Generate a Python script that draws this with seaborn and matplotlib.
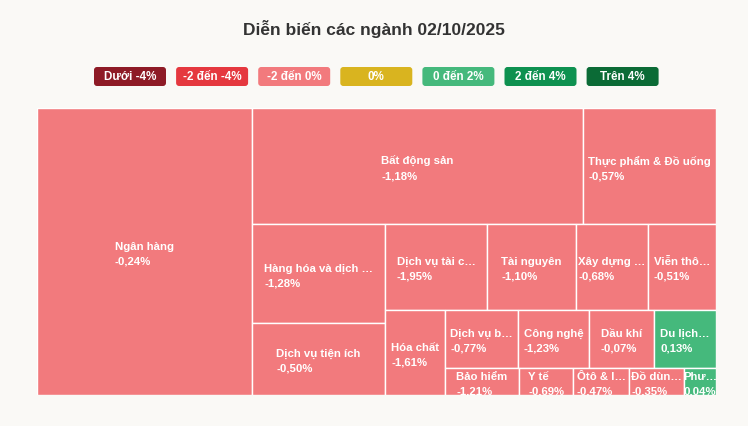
import matplotlib
matplotlib.use("Agg")
import matplotlib.pyplot as plt
from matplotlib.patches import Rectangle, FancyBboxPatch
import seaborn as sns

# ---------------- data ----------------
sectors = ["Ngân hàng", "Bất động sản", "Thực phẩm & Đồ uống", "Hàng hóa và dịch …",
           "Dịch vụ tiện ích", "Dịch vụ tài c…", "Tài nguyên", "Xây dựng …", "Viễn thô…",
           "Hóa chất", "Dịch vụ b…", "Công nghệ", "Dầu khí", "Du lịch…",
           "Bảo hiểm", "Y tế", "Ôtô & l…", "Đồ dùn…", "Phư…"]
market_cap = [61.7, 38.4, 15.4, 13.2, 9.6, 8.8, 7.65, 6.2, 5.85,
              5.1, 4.23, 4.12, 3.77, 3.6, 2.0, 1.46, 1.51, 1.485, 0.864]
change_pct = [-0.24, -1.18, -0.57, -1.28, -0.50, -1.95, -1.10, -0.68, -0.51,
              -1.61, -0.77, -1.23, -0.07, 0.13, -1.21, -0.69, -0.47, -0.35, 0.04]

legend_labels = ["Dưới -4%", "-2 đến -4%", "-2 đến 0%", "0%", "0 đến 2%", "2 đến 4%", "Trên 4%"]
legend_colors = ["#8E1B26", "#E5383F", "#F27A7D", "#D9B41F", "#45B97C", "#0E9150", "#0B6B36"]
title = "Diễn biến các ngành 02/10/2025"


def color_for(v):
    if v < -4:
        return legend_colors[0]
    if v < -2:
        return legend_colors[1]
    if v < 0:
        return legend_colors[2]
    if v == 0:
        return legend_colors[3]
    if v <= 2:
        return legend_colors[4]
    if v <= 4:
        return legend_colors[5]
    return legend_colors[6]


# ---------------- treemap layout (alternating low-aspect-ratio strips) ----------------
def strip(vals, x, y, w, h, direction):
    total = sum(vals)
    out = []
    if direction == 0:  # vertical column on the left
        sw = total / h
        cy = y
        for v in vals:
            out.append((x, cy, sw, v / sw))
            cy += v / sw
        return out, (x + sw, y, w - sw, h)
    sh = total / w      # horizontal row on top
    cx = x
    for v in vals:
        out.append((cx, y, v / sh, sh))
        cx += v / sh
    return out, (x, y + sh, w, h - sh)


def ratio(a, b):
    return max(a / b, b / a)


def treemap(vals, x, y, w, h):
    scale = w * h / sum(vals)
    vals = [v * scale for v in vals]
    rects, group, direction = [], [], 0
    for v in vals:
        if group:
            side = h if direction == 0 else w
            last = group[-1]
            t0, t1 = sum(group), sum(group) + v
            r0 = ratio(t0 / side, last / (t0 / side))
            r1 = ratio(t1 / side, last / (t1 / side))
            if r1 > r0:
                out, (x, y, w, h) = strip(group, x, y, w, h, direction)
                rects += out
                direction = 1 - direction
                group = []
        group.append(v)
    out, _ = strip(group, x, y, w, h, direction)
    rects += out
    return rects


# ---------------- figure ----------------
sns.set_theme(style="white")
plt.rcParams["font.family"] = ["Liberation Sans", "DejaVu Sans"]
BG = "#FAF9F6"
FW, FH = 748, 426
fig = plt.figure(figsize=(FW / 100, FH / 100), dpi=100, facecolor=BG)

# overlay axes in pixel coordinates for title and legend
ov = fig.add_axes([0, 0, 1, 1])
ov.set_xlim(0, FW)
ov.set_ylim(FH, 0)
ov.axis("off")
ov.patch.set_alpha(0)

ov.text(FW / 2, 29, title, ha="center", va="center", fontsize=12.5,
        fontweight="bold", color="#333333")

box_w, box_h, gap, x0, y0 = 72, 19, 10.1, 94, 67
for i, (lab, col) in enumerate(zip(legend_labels, legend_colors)):
    bx = x0 + i * (box_w + gap)
    ov.add_patch(FancyBboxPatch((bx + 2, y0 + 2), box_w - 4, box_h - 4,
                                boxstyle="round,pad=2,rounding_size=3",
                                facecolor=col, edgecolor="none"))
    ov.text(bx + box_w / 2, y0 + box_h / 2 + 0.5, lab, ha="center", va="center",
            fontsize=8.4, fontweight="bold", color="white")

# treemap axes
L, R, T, B = 37, 716, 108, 395
ax = fig.add_axes([L / FW, 1 - B / FH, (R - L) / FW, (B - T) / FH])
W, H = R - L, B - T
ax.set_xlim(0, W)
ax.set_ylim(H, 0)
ax.axis("off")

rects = treemap(market_cap, 0, 0, W, H)
for (rx, ry, rw, rh), name, chg in zip(rects, sectors, change_pct):
    rect = Rectangle((rx, ry), rw, rh, facecolor=color_for(chg),
                     edgecolor="white", linewidth=1.0)
    ax.add_patch(rect)
    label = f"{name}\n{chg:.2f}%".replace(".", ",")
    t = ax.text(rx + rw / 2, ry + rh / 2 + 2.5, label, ha="center", va="center",
                multialignment="left", fontsize=8.2, fontweight="bold",
                color="white", linespacing=1.6)
    t.set_clip_path(rect)

fig.savefig("out.png", dpi=100, facecolor=BG)
